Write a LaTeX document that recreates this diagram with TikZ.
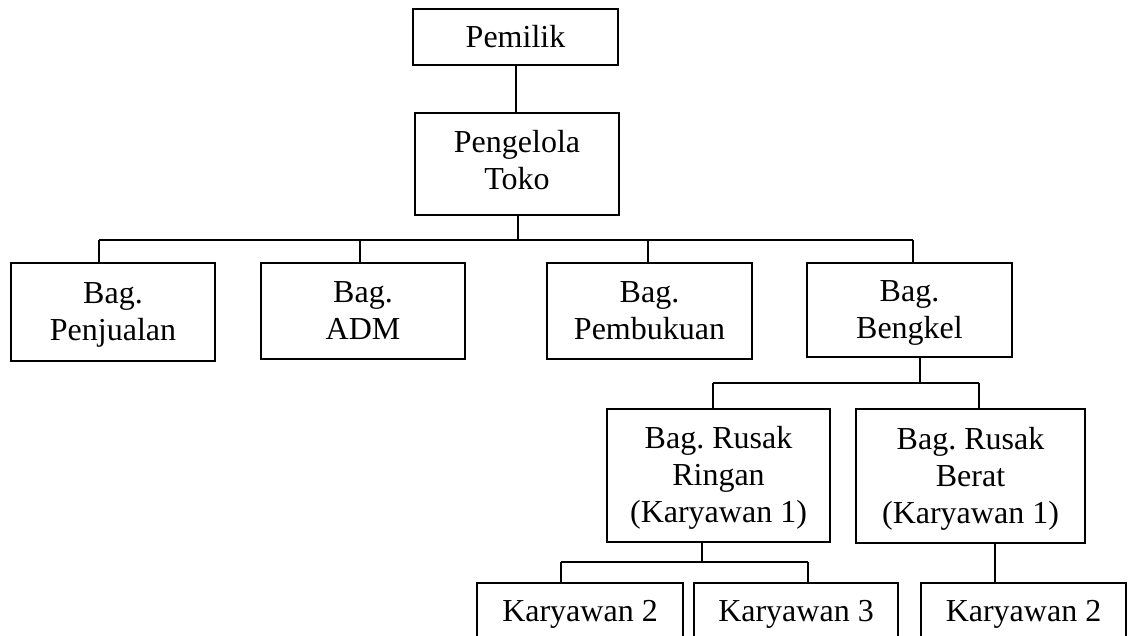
\documentclass[tikz,border=0pt]{standalone}
\usepackage{fontspec}
\setmainfont{Liberation Serif}
\frenchspacing
\newcommand{\orgtext}[2]{\raisebox{-#1}[\height][\depth]{\begin{tabular}{@{}c@{}}#2\end{tabular}}}
\begin{document}
\begin{tikzpicture}[x=1pt,y=-1pt,
  box/.style={draw=black, line width=1.8pt, inner sep=0pt,
    font=\fontsize{32}{37}\selectfont},
  conn/.style={draw=black, line width=1.8pt}]
\useasboundingbox (0,0) rectangle (1133,635);
\clip (0,0) rectangle (1133,635);
% level 0/1
\node[box, minimum width=205pt, minimum height=56pt] (pemilik) at (515.5,37) {Pemilik};
\node[box, minimum width=204pt, minimum height=102pt] (pengelola) at (517,164) {\orgtext{0pt}{Pengelola\\Toko}};
% level 2
\node[box, minimum width=204pt, minimum height=98pt] (penjualan) at (113,312) {\orgtext{2.5pt}{Bag.\\Penjualan}};
\node[box, minimum width=204pt, minimum height=96pt] (adm) at (363,311) {\orgtext{3pt}{Bag.\\ADM}};
\node[box, minimum width=205pt, minimum height=96pt] (pembukuan) at (649.5,311) {\orgtext{3pt}{Bag.\\Pembukuan}};
\node[box, minimum width=205pt, minimum height=94pt] (bengkel) at (909.5,310) {\orgtext{3pt}{Bag.\\Bengkel}};
% level 3
\node[box, minimum width=223pt, minimum height=133pt] (ringan) at (718.5,475.5) {\orgtext{3pt}{Bag. Rusak\\Ringan\\(Karyawan 1)}};
\node[box, minimum width=229pt, minimum height=134pt] (berat) at (970.5,476) {\orgtext{3pt}{Bag. Rusak\\Berat\\(Karyawan 1)}};
% level 4 (cut off at the bottom)
\node[box, minimum width=206pt, minimum height=63pt] (k2a) at (580,614.5) {Karyawan 2};
\node[box, minimum width=204pt, minimum height=63pt] (k3) at (796,614.5) {Karyawan 3};
\node[box, minimum width=205pt, minimum height=63pt] (k2b) at (1023.5,614.5) {Karyawan 2};
% bus junctions
\coordinate (jp) at (516,90);
\coordinate (ja) at (99,240);
\coordinate (jb) at (360,240);
\coordinate (jc) at (648,240);
\coordinate (jd) at (913,240);
\coordinate (jt) at (518,240);
\coordinate (je) at (713,383);
\coordinate (jf) at (979,383);
\coordinate (jm) at (920,383);
\coordinate (jg) at (561,562);
\coordinate (jh) at (808,562);
\coordinate (jr) at (702,562);
\coordinate (jk) at (995,560);
% connectors
\draw[conn] (jp |- pemilik.south) -- (jp |- pengelola.north);
\draw[conn] (jt |- pengelola.south) -- (jt);
\draw[conn] (ja) -- (jd);
\draw[conn] (ja) -- (ja |- penjualan.north);
\draw[conn] (jb) -- (jb |- adm.north);
\draw[conn] (jc) -- (jc |- pembukuan.north);
\draw[conn] (jd) -- (jd |- bengkel.north);
\draw[conn] (jm |- bengkel.south) -- (jm);
\draw[conn] (je) -- (jf);
\draw[conn] (je) -- (je |- ringan.north);
\draw[conn] (jf) -- (jf |- berat.north);
\draw[conn] (jr |- ringan.south) -- (jr);
\draw[conn] (jg) -- (jh);
\draw[conn] (jg) -- (jg |- k2a.north);
\draw[conn] (jh) -- (jh |- k3.north);
\draw[conn] (jk |- berat.south) -- ([yshift=-2pt]jk |- k2b.north);
\end{tikzpicture}
\end{document}
